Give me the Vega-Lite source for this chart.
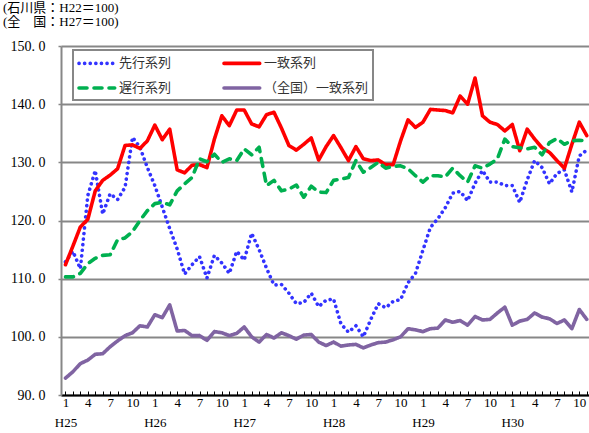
{
 "$schema": "https://vega.github.io/schema/vega-lite/v6.json",
 "width": 528, "height": 349,
 "autosize": {"type": "none"},
 "padding": {"left": 61, "top": 46, "right": 0, "bottom": 38},
 "background": "white",
 "title": {"text": ["(石川県：H22＝100)", "(全　国：H27＝100)"], "anchor": "start", "frame": "group", "dx": -58, "offset": 10, "font": "Liberation Serif, Noto Sans CJK JP", "fontSize": 13, "fontWeight": "normal", "lineHeight": 14, "color": "black"},
 "data": {"values": [
{"m":0,"s":"先行系列","v":112.9},{"m":1,"s":"先行系列","v":114.7},{"m":2,"s":"先行系列","v":111.7},{"m":3,"s":"先行系列","v":124.3},{"m":4,"s":"先行系列","v":128.6},{"m":5,"s":"先行系列","v":121.1},{"m":6,"s":"先行系列","v":124.6},{"m":7,"s":"先行系列","v":123.6},{"m":8,"s":"先行系列","v":125.7},{"m":9,"s":"先行系列","v":134.3},
{"m":10,"s":"先行系列","v":132.6},{"m":11,"s":"先行系列","v":129.1},{"m":12,"s":"先行系列","v":126.0},{"m":13,"s":"先行系列","v":122.3},{"m":14,"s":"先行系列","v":118.6},{"m":15,"s":"先行系列","v":115.1},{"m":16,"s":"先行系列","v":110.8},{"m":17,"s":"先行系列","v":112.4},{"m":18,"s":"先行系列","v":113.8},{"m":19,"s":"先行系列","v":110.1},
{"m":20,"s":"先行系列","v":114.0},{"m":21,"s":"先行系列","v":112.7},{"m":22,"s":"先行系列","v":110.9},{"m":23,"s":"先行系列","v":114.7},{"m":24,"s":"先行系列","v":113.2},{"m":25,"s":"先行系列","v":117.8},{"m":26,"s":"先行系列","v":115.0},{"m":27,"s":"先行系列","v":111.8},{"m":28,"s":"先行系列","v":108.9},{"m":29,"s":"先行系列","v":109.0},
{"m":30,"s":"先行系列","v":107.5},{"m":31,"s":"先行系列","v":105.7},{"m":32,"s":"先行系列","v":105.9},{"m":33,"s":"先行系列","v":107.5},{"m":34,"s":"先行系列","v":105.2},{"m":35,"s":"先行系列","v":106.3},{"m":36,"s":"先行系列","v":106.5},{"m":37,"s":"先行系列","v":102.2},{"m":38,"s":"先行系列","v":100.8},{"m":39,"s":"先行系列","v":101.9},
{"m":40,"s":"先行系列","v":100.0},{"m":41,"s":"先行系列","v":103.0},{"m":42,"s":"先行系列","v":105.7},{"m":43,"s":"先行系列","v":105.0},{"m":44,"s":"先行系列","v":106.1},{"m":45,"s":"先行系列","v":106.4},{"m":46,"s":"先行系列","v":109.3},{"m":47,"s":"先行系列","v":110.9},{"m":48,"s":"先行系列","v":114.9},{"m":49,"s":"先行系列","v":118.8},
{"m":50,"s":"先行系列","v":120.3},{"m":51,"s":"先行系列","v":122.2},{"m":52,"s":"先行系列","v":124.7},{"m":53,"s":"先行系列","v":125.0},{"m":54,"s":"先行系列","v":123.4},{"m":55,"s":"先行系列","v":126.4},{"m":56,"s":"先行系列","v":128.6},{"m":57,"s":"先行系列","v":126.6},{"m":58,"s":"先行系列","v":126.6},{"m":59,"s":"先行系列","v":126.0},
{"m":60,"s":"先行系列","v":126.0},{"m":61,"s":"先行系列","v":123.1},{"m":62,"s":"先行系列","v":127.0},{"m":63,"s":"先行系列","v":130.3},{"m":64,"s":"先行系列","v":129.1},{"m":65,"s":"先行系列","v":126.3},{"m":66,"s":"先行系列","v":128.1},{"m":67,"s":"先行系列","v":128.7},{"m":68,"s":"先行系列","v":124.9},{"m":69,"s":"先行系列","v":131.1},{"m":70,"s":"先行系列","v":132.1},
{"m":0,"s":"一致系列","v":112.4},{"m":1,"s":"一致系列","v":115.6},{"m":2,"s":"一致系列","v":118.9},{"m":3,"s":"一致系列","v":120.2},{"m":4,"s":"一致系列","v":125.1},{"m":5,"s":"一致系列","v":126.9},{"m":6,"s":"一致系列","v":127.8},{"m":7,"s":"一致系列","v":128.9},{"m":8,"s":"一致系列","v":132.9},{"m":9,"s":"一致系列","v":133.0},
{"m":10,"s":"一致系列","v":132.4},{"m":11,"s":"一致系列","v":133.7},{"m":12,"s":"一致系列","v":136.4},{"m":13,"s":"一致系列","v":133.9},{"m":14,"s":"一致系列","v":135.7},{"m":15,"s":"一致系列","v":128.7},{"m":16,"s":"一致系列","v":128.2},{"m":17,"s":"一致系列","v":129.5},{"m":18,"s":"一致系列","v":129.6},{"m":19,"s":"一致系列","v":129.1},
{"m":20,"s":"一致系列","v":134.0},{"m":21,"s":"一致系列","v":138.0},{"m":22,"s":"一致系列","v":136.3},{"m":23,"s":"一致系列","v":139.0},{"m":24,"s":"一致系列","v":139.0},{"m":25,"s":"一致系列","v":136.6},{"m":26,"s":"一致系列","v":136.1},{"m":27,"s":"一致系列","v":138.2},{"m":28,"s":"一致系列","v":138.6},{"m":29,"s":"一致系列","v":135.9},
{"m":30,"s":"一致系列","v":132.9},{"m":31,"s":"一致系列","v":132.1},{"m":32,"s":"一致系列","v":133.1},{"m":33,"s":"一致系列","v":134.2},{"m":34,"s":"一致系列","v":130.4},{"m":35,"s":"一致系列","v":132.7},{"m":36,"s":"一致系列","v":134.6},{"m":37,"s":"一致系列","v":132.5},{"m":38,"s":"一致系列","v":130.3},{"m":39,"s":"一致系列","v":132.7},
{"m":40,"s":"一致系列","v":130.6},{"m":41,"s":"一致系列","v":130.3},{"m":42,"s":"一致系列","v":130.4},{"m":43,"s":"一致系列","v":129.6},{"m":44,"s":"一致系列","v":129.6},{"m":45,"s":"一致系列","v":133.7},{"m":46,"s":"一致系列","v":137.3},{"m":47,"s":"一致系列","v":136.0},{"m":48,"s":"一致系列","v":136.9},{"m":49,"s":"一致系列","v":139.1},
{"m":50,"s":"一致系列","v":139.0},{"m":51,"s":"一致系列","v":138.9},{"m":52,"s":"一致系列","v":138.5},{"m":53,"s":"一致系列","v":141.4},{"m":54,"s":"一致系列","v":140.0},{"m":55,"s":"一致系列","v":144.5},{"m":56,"s":"一致系列","v":138.0},{"m":57,"s":"一致系列","v":136.9},{"m":58,"s":"一致系列","v":136.5},{"m":59,"s":"一致系列","v":135.4},
{"m":60,"s":"一致系列","v":136.5},{"m":61,"s":"一致系列","v":132.0},{"m":62,"s":"一致系列","v":135.7},{"m":63,"s":"一致系列","v":134.0},{"m":64,"s":"一致系列","v":132.5},{"m":65,"s":"一致系列","v":131.7},{"m":66,"s":"一致系列","v":130.3},{"m":67,"s":"一致系列","v":129.0},{"m":68,"s":"一致系列","v":133.1},{"m":69,"s":"一致系列","v":136.9},{"m":70,"s":"一致系列","v":134.6},
{"m":0,"s":"遅行系列","v":110.3},{"m":1,"s":"遅行系列","v":110.3},{"m":2,"s":"遅行系列","v":110.9},{"m":3,"s":"遅行系列","v":112.6},{"m":4,"s":"遅行系列","v":113.5},{"m":5,"s":"遅行系列","v":114.0},{"m":6,"s":"遅行系列","v":114.1},{"m":7,"s":"遅行系列","v":116.7},{"m":8,"s":"遅行系列","v":117.0},{"m":9,"s":"遅行系列","v":118.1},
{"m":10,"s":"遅行系列","v":120.0},{"m":11,"s":"遅行系列","v":121.7},{"m":12,"s":"遅行系列","v":122.9},{"m":13,"s":"遅行系列","v":123.1},{"m":14,"s":"遅行系列","v":122.7},{"m":15,"s":"遅行系列","v":125.1},{"m":16,"s":"遅行系列","v":126.3},{"m":17,"s":"遅行系列","v":127.4},{"m":18,"s":"遅行系列","v":130.6},{"m":19,"s":"遅行系列","v":130.1},
{"m":20,"s":"遅行系列","v":131.4},{"m":21,"s":"遅行系列","v":130.0},{"m":22,"s":"遅行系列","v":130.6},{"m":23,"s":"遅行系列","v":130.3},{"m":24,"s":"遅行系列","v":132.3},{"m":25,"s":"遅行系列","v":131.3},{"m":26,"s":"遅行系列","v":132.6},{"m":27,"s":"遅行系列","v":126.0},{"m":28,"s":"遅行系列","v":126.9},{"m":29,"s":"遅行系列","v":125.1},
{"m":30,"s":"遅行系列","v":125.4},{"m":31,"s":"遅行系列","v":126.1},{"m":32,"s":"遅行系列","v":124.0},{"m":33,"s":"遅行系列","v":125.9},{"m":34,"s":"遅行系列","v":124.9},{"m":35,"s":"遅行系列","v":124.8},{"m":36,"s":"遅行系列","v":126.9},{"m":37,"s":"遅行系列","v":127.1},{"m":38,"s":"遅行系列","v":127.4},{"m":39,"s":"遅行系列","v":130.3},
{"m":40,"s":"遅行系列","v":128.3},{"m":41,"s":"遅行系列","v":129.1},{"m":42,"s":"遅行系列","v":130.0},{"m":43,"s":"遅行系列","v":129.0},{"m":44,"s":"遅行系列","v":129.3},{"m":45,"s":"遅行系列","v":129.4},{"m":46,"s":"遅行系列","v":128.9},{"m":47,"s":"遅行系列","v":127.7},{"m":48,"s":"遅行系列","v":126.6},{"m":49,"s":"遅行系列","v":127.7},
{"m":50,"s":"遅行系列","v":127.7},{"m":51,"s":"遅行系列","v":127.5},{"m":52,"s":"遅行系列","v":129.0},{"m":53,"s":"遅行系列","v":127.7},{"m":54,"s":"遅行系列","v":126.6},{"m":55,"s":"遅行系列","v":129.4},{"m":56,"s":"遅行系列","v":129.0},{"m":57,"s":"遅行系列","v":129.7},{"m":58,"s":"遅行系列","v":130.6},{"m":59,"s":"遅行系列","v":134.0},
{"m":60,"s":"遅行系列","v":132.7},{"m":61,"s":"遅行系列","v":132.5},{"m":62,"s":"遅行系列","v":132.3},{"m":63,"s":"遅行系列","v":132.6},{"m":64,"s":"遅行系列","v":131.3},{"m":65,"s":"遅行系列","v":133.4},{"m":66,"s":"遅行系列","v":134.1},{"m":67,"s":"遅行系列","v":133.1},{"m":68,"s":"遅行系列","v":133.7},{"m":69,"s":"遅行系列","v":133.8},{"m":70,"s":"遅行系列","v":133.7},
{"m":0,"s":"（全国）一致系列","v":92.9},{"m":1,"s":"（全国）一致系列","v":94.0},{"m":2,"s":"（全国）一致系列","v":95.4},{"m":3,"s":"（全国）一致系列","v":96.0},{"m":4,"s":"（全国）一致系列","v":97.0},{"m":5,"s":"（全国）一致系列","v":97.1},{"m":6,"s":"（全国）一致系列","v":98.3},{"m":7,"s":"（全国）一致系列","v":99.3},{"m":8,"s":"（全国）一致系列","v":100.2},{"m":9,"s":"（全国）一致系列","v":100.7},
{"m":10,"s":"（全国）一致系列","v":101.9},{"m":11,"s":"（全国）一致系列","v":101.7},{"m":12,"s":"（全国）一致系列","v":103.8},{"m":13,"s":"（全国）一致系列","v":103.3},{"m":14,"s":"（全国）一致系列","v":105.5},{"m":15,"s":"（全国）一致系列","v":101.0},{"m":16,"s":"（全国）一致系列","v":101.1},{"m":17,"s":"（全国）一致系列","v":100.2},{"m":18,"s":"（全国）一致系列","v":100.2},{"m":19,"s":"（全国）一致系列","v":99.4},
{"m":20,"s":"（全国）一致系列","v":100.9},{"m":21,"s":"（全国）一致系列","v":100.7},{"m":22,"s":"（全国）一致系列","v":100.2},{"m":23,"s":"（全国）一致系列","v":100.6},{"m":24,"s":"（全国）一致系列","v":101.7},{"m":25,"s":"（全国）一致系列","v":100.0},{"m":26,"s":"（全国）一致系列","v":99.1},{"m":27,"s":"（全国）一致系列","v":100.4},{"m":28,"s":"（全国）一致系列","v":99.8},{"m":29,"s":"（全国）一致系列","v":100.7},
{"m":30,"s":"（全国）一致系列","v":100.2},{"m":31,"s":"（全国）一致系列","v":99.6},{"m":32,"s":"（全国）一致系列","v":100.3},{"m":33,"s":"（全国）一致系列","v":100.4},{"m":34,"s":"（全国）一致系列","v":99.1},{"m":35,"s":"（全国）一致系列","v":98.5},{"m":36,"s":"（全国）一致系列","v":99.1},{"m":37,"s":"（全国）一致系列","v":98.4},{"m":38,"s":"（全国）一致系列","v":98.6},{"m":39,"s":"（全国）一致系列","v":98.7},
{"m":40,"s":"（全国）一致系列","v":98.1},{"m":41,"s":"（全国）一致系列","v":98.6},{"m":42,"s":"（全国）一致系列","v":99.0},{"m":43,"s":"（全国）一致系列","v":99.1},{"m":44,"s":"（全国）一致系列","v":99.5},{"m":45,"s":"（全国）一致系列","v":100.0},{"m":46,"s":"（全国）一致系列","v":101.4},{"m":47,"s":"（全国）一致系列","v":101.2},{"m":48,"s":"（全国）一致系列","v":100.9},{"m":49,"s":"（全国）一致系列","v":101.4},
{"m":50,"s":"（全国）一致系列","v":101.5},{"m":51,"s":"（全国）一致系列","v":102.9},{"m":52,"s":"（全国）一致系列","v":102.5},{"m":53,"s":"（全国）一致系列","v":102.8},{"m":54,"s":"（全国）一致系列","v":102.0},{"m":55,"s":"（全国）一致系列","v":103.5},{"m":56,"s":"（全国）一致系列","v":102.9},{"m":57,"s":"（全国）一致系列","v":103.0},{"m":58,"s":"（全国）一致系列","v":104.1},{"m":59,"s":"（全国）一致系列","v":105.1},
{"m":60,"s":"（全国）一致系列","v":102.0},{"m":61,"s":"（全国）一致系列","v":102.7},{"m":62,"s":"（全国）一致系列","v":103.0},{"m":63,"s":"（全国）一致系列","v":104.1},{"m":64,"s":"（全国）一致系列","v":103.4},{"m":65,"s":"（全国）一致系列","v":103.1},{"m":66,"s":"（全国）一致系列","v":102.3},{"m":67,"s":"（全国）一致系列","v":102.9},{"m":68,"s":"（全国）一致系列","v":101.4},{"m":69,"s":"（全国）一致系列","v":104.7},{"m":70,"s":"（全国）一致系列","v":103.0}
 ]},
 "mark": {"type": "line", "strokeWidth": 3.6, "strokeCap": "round", "strokeJoin": "round", "clip": true},
 "encoding": {
  "x": {"field": "m", "type": "quantitative",
        "scale": {"domain": [-0.6, 70.3], "nice": false, "zero": false},
        "axis": {"title": null, "values": [0,1,2,3,4,5,6,7,8,9,10,11,12,13,14,15,16,17,18,19,20,21,22,23,24,25,26,27,28,29,30,31,32,33,34,35,36,37,38,39,40,41,42,43,44,45,46,47,48,49,50,51,52,53,54,55,56,57,58,59,60,61,62,63,64,65,66,67,68,69,70],
                 "labelExpr": "datum.value % 3 == 0 ? (datum.value % 12 == 0 ? ['' + (datum.value % 12 + 1), 'H' + (25 + floor(datum.value / 12))] : '' + (datum.value % 12 + 1)) : ''",
                 "grid": false, "domainColor": "black", "domainWidth": 2, "tickColor": "black", "tickWidth": 1, "tickSize": -4,
                 "labelFont": "Liberation Serif", "labelFontSize": 13, "labelColor": "black", "labelBaseline": "top", "labelLineHeight": 20,
                 "labelPadding": 5, "labelOverlap": false, "labelFlush": false, "labelBound": false}},
  "y": {"field": "v", "type": "quantitative",
        "scale": {"domain": [90, 150], "nice": false, "zero": false},
        "axis": {"title": null, "values": [90,100,110,120,130,140,150],
                 "labelExpr": "replace(format(datum.value, '.1f'), '.', '. ')",
                 "grid": true, "gridColor": "#878787", "gridWidth": 2,
                 "domainColor": "#878787", "domainWidth": 2, "tickColor": "#878787", "tickSize": 3, "tickWidth": 1.5,
                 "labelFont": "Liberation Serif", "labelFontSize": 14, "labelColor": "black", "labelPadding": 13}},
  "color": {"field": "s", "type": "nominal",
            "scale": {"domain": ["先行系列", "一致系列", "遅行系列", "（全国）一致系列"], "range": ["#3333ff", "#ff0000", "#00b050", "#8064a2"]},
            "legend": {"title": null, "orient": "none", "legendX": 12, "legendY": 4, "direction": "horizontal", "columns": 2, "columnPadding": 44, "rowPadding": 8,
                       "symbolType": "M-1,0H4.1", "symbolSize": 196, "symbolStrokeWidth": 3.6, "labelFont": "Noto Sans CJK JP", "labelFontSize": 13, "labelColor": "#333333", "labelOffset": 24, "labelLimit": 200,
                       "fillColor": "white", "strokeColor": "#878787", "padding": 4, "cornerRadius": 0,
                       "encode": {"symbols": {"update": {"strokeCap": {"value": "round"}}}}}},
  "strokeDash": {"field": "s", "type": "nominal",
            "scale": {"domain": ["先行系列", "一致系列", "遅行系列", "（全国）一致系列"], "range": [[0.1, 5.5], [1, 0], [8, 7], [1, 0]]},
            "legend": {"title": null, "orient": "none", "legendX": 12, "legendY": 4, "direction": "horizontal", "columns": 2, "columnPadding": 44, "rowPadding": 8,
                       "symbolType": "M-1,0H4.1", "symbolSize": 196, "symbolStrokeWidth": 3.6, "labelFont": "Noto Sans CJK JP", "labelFontSize": 13, "labelColor": "#333333", "labelOffset": 24, "labelLimit": 200,
                       "fillColor": "white", "strokeColor": "#878787", "padding": 4, "cornerRadius": 0,
                       "encode": {"symbols": {"update": {"strokeCap": {"value": "round"}}}}}}
 },
 "config": {"view": {"stroke": null}, "legend": {"strokeWidth": 2}}
}
